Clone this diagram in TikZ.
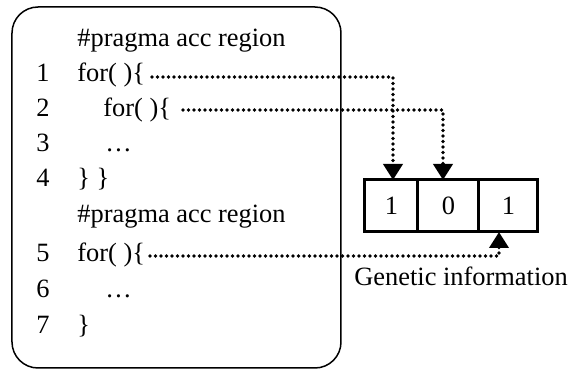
\documentclass[tikz,border=0pt]{standalone}
\usepackage{fontspec}
\setmainfont{Liberation Serif}
\usetikzlibrary{arrows.meta}
\begin{document}
\begin{tikzpicture}[x=0.5pt,y=-0.5pt,
  txt/.style={anchor=base west, inner sep=0pt, font=\fontsize{13.2}{15}\selectfont},
  cell/.style={draw, line width=1.5pt, minimum height=26pt, inner sep=0pt, font=\fontsize{13.2}{15}\selectfont},
  dotline/.style={line width=1.9pt, dash pattern=on 0pt off 2.75pt, line cap=round},
  tip/.style={-{Triangle[width=9.5pt,length=8pt]}}]
\useasboundingbox (0,0) rectangle (575,374);
\draw[line width=0.75pt, rounded corners=13pt] (12,7) rectangle (341,368);
% code
\node[txt] (p1) at (77,47) {\#pragma acc region};
\node[txt] (n1) at (36,82) {1};  \node[txt] (l1) at (77,82) {for( )\{};
\node[txt] (n2) at (36,117) {2}; \node[txt] (l2) at (103,117) {for( )\{};
\node[txt] (n3) at (36,152) {3}; \node[txt] (l3) at (105,152) {…};
\node[txt] (n4) at (36,187) {4}; \node[txt] (l4) at (77,187) {\} \}};
\node[txt] (p2) at (77,223) {\#pragma acc region};
\node[txt] (n5) at (36,262) {5}; \node[txt] (l5) at (77,262) {for( )\{};
\node[txt] (n6) at (36,298) {6}; \node[txt] (l6) at (105,298) {…};
\node[txt] (n7) at (36,334) {7}; \node[txt] (l7) at (77,334) {\}};
% genetic cells
\node[cell, minimum width=26.5pt] (b1) at (391.5,206) {1};
\node[cell, minimum width=30.5pt] (b2) at (448.5,206) {0};
\node[cell, minimum width=29.5pt] (b3) at (508.5,206) {1};
\node[txt] (gi) at (354,286) {Genetic information};
% connectors
\coordinate (s1) at (152,77);
\coordinate (s2) at (183,110);
\coordinate (s5) at (150,256);
\coordinate (t1) at (393,180);
\coordinate (t2) at (443,180);
\coordinate (t5) at (499,232);
\draw[dotline, tip] (s1) -| (t1);
\draw[dotline, tip] (s2) -| (t2);
\draw[dotline, tip] (s5) -| (t5);
\end{tikzpicture}
\end{document}
